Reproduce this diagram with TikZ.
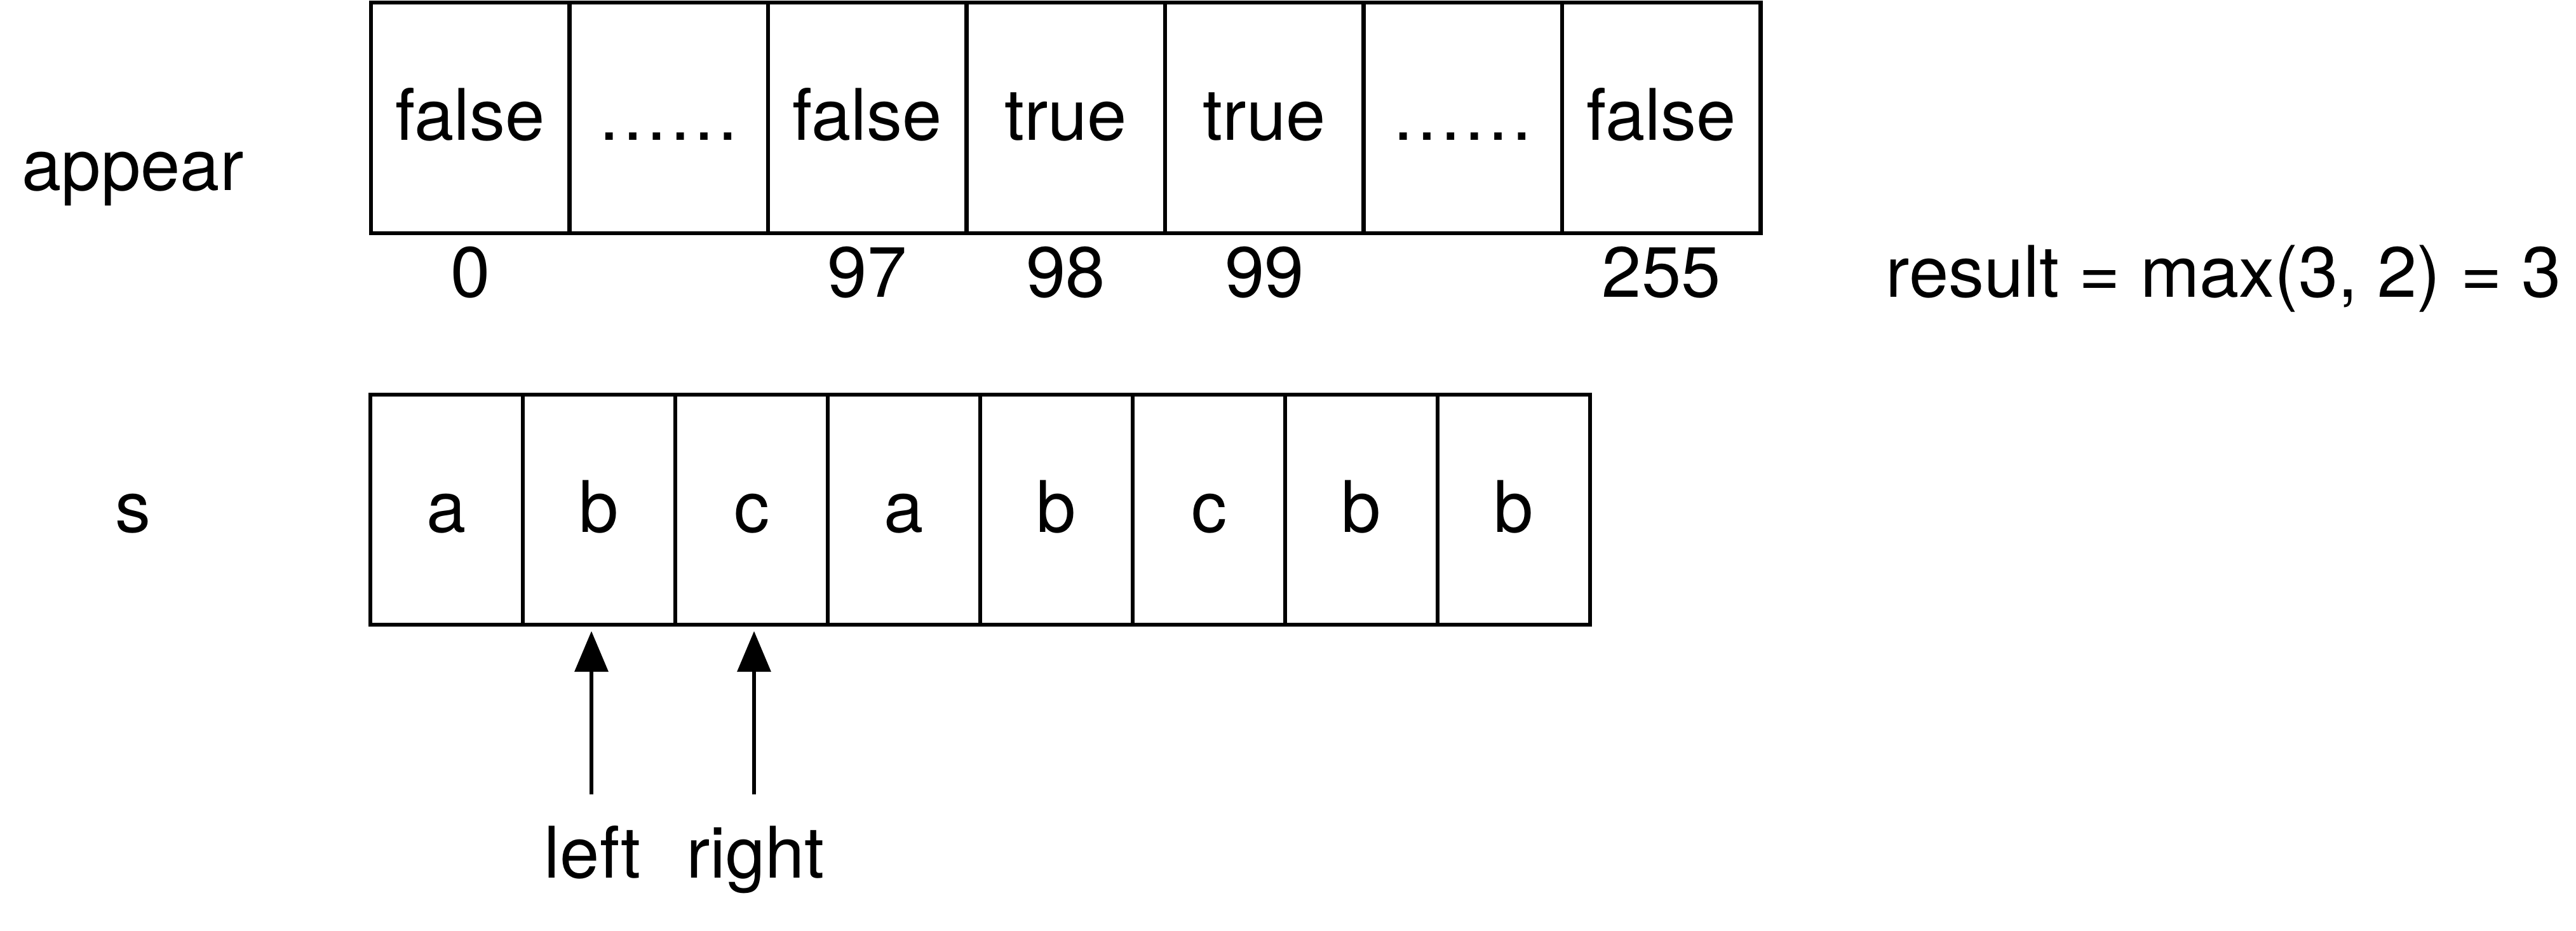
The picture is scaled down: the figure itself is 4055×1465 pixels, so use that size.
\documentclass[tikz,border=0pt]{standalone}
\usepackage{fontspec}
\setmainfont{TeX Gyre Heros}
\usetikzlibrary{arrows.meta}
\begin{document}
\begin{tikzpicture}[x=0.25pt,y=-0.25pt,
  every node/.style={font=\fontsize{28pt}{34pt}\selectfont},
  cellA/.style={draw=black,line width=1.625pt,minimum width=78.125pt,minimum height=90.75pt,inner sep=0pt,text height=17.75pt,text depth=0pt},
  cellB/.style={draw=black,line width=1.625pt,minimum width=60pt,minimum height=90.5pt,inner sep=0pt,text height=17.5pt,text depth=0pt},
  txt/.style={anchor=base,inner sep=0pt},
  ptr/.style={line width=1.625pt,-{Triangle[length=16pt,width=13pt]}}]
\useasboundingbox (0,0) rectangle (4055,1465);
% appear array
\foreach \i/\t in {0/false,1/……,2/false,3/true,4/true,5/……,6/false}{
  \node[cellA] (a\i) at ({584+312.5*(\i+0.5)},185.5) {\t};
}
\coordinate (idxrow) at (0,468);
\node[txt] (i0) at (a0 |- idxrow) {0};
\node[txt] (i2) at (a2 |- idxrow) {97};
\node[txt] (i3) at (a3 |- idxrow) {98};
\node[txt] (i4) at (a4 |- idxrow) {99};
\node[txt] (i6) at (a6 |- idxrow) {255};
\node[txt] (appear) at (209,300) {appear};
\node[txt,anchor=base west] (result) at (2968,468) {result = max(3, 2) = 3};
% s array
\foreach \j/\t in {0/a,1/b,2/c,3/a,4/b,5/c,6/b,7/b}{
  \node[cellB] (s\j) at ({583+240*(\j+0.5)},802) {\t};
}
\node[txt] (slabel) at (209,837) {s};
% pointers
\coordinate (ltail) at (931,1250);
\coordinate (ltip) at (931,993);
\coordinate (rtail) at (1187,1250);
\coordinate (rtip) at (1187,993);
\draw[ptr] (ltail) -- (ltip);
\draw[ptr] (rtail) -- (rtip);
\node[txt] (left) at (933,1381) {left};
\node[txt] (right) at (1189,1381) {right};
\end{tikzpicture}
\end{document}
